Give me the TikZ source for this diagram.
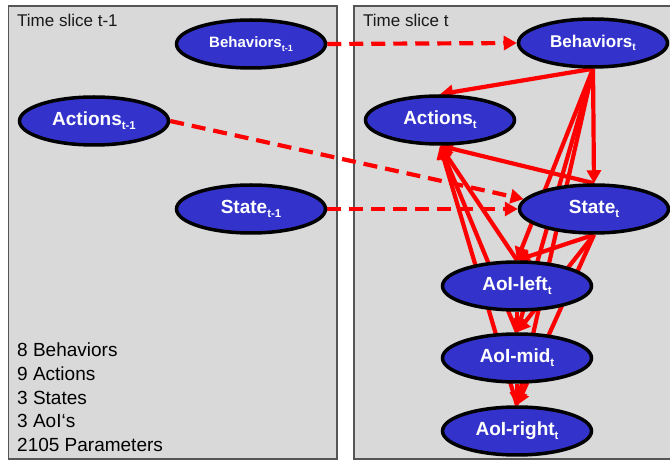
\documentclass[tikz,border=0pt]{standalone}
\usepackage{fontspec}
\usepackage{graphicx}
\setmainfont{Liberation Sans}
\usetikzlibrary{shapes.geometric,arrows.meta}
\pgfdeclarelayer{panel}
\pgfdeclarelayer{edge}
\pgfsetlayers{panel,edge,main}
\definecolor{nodeblue}{HTML}{3333CC}
\definecolor{panelgray}{HTML}{D9D9D9}
\definecolor{framegray}{HTML}{555555}
\newcommand\lsub[1]{\raisebox{-0.22em}{\scalebox{0.6}{#1}}}
\tikzset{
  var/.style={ellipse, draw=black, line width=3.5pt, fill=nodeblue, text=white,
    font=\bfseries\fontsize{19}{19}\selectfont, minimum width=149pt, minimum height=48pt, inner sep=0pt},
  dep/.style={draw=red, line width=4.2pt, -{Triangle[length=13pt,width=14pt]}},
  temporal/.style={dep, dash pattern=on 14pt off 8pt},
  panelbox/.style={draw=framegray, line width=1.5pt, fill=panelgray},
  paneltext/.style={font=\fontsize{17}{17}\selectfont, anchor=base west, inner sep=0pt, text=black!90},
  counttext/.style={font=\fontsize{19}{19}\selectfont, anchor=base west, inner sep=0pt}
}
\begin{document}
\begin{tikzpicture}[x=1pt,y=-1pt]
\useasboundingbox (0,0) rectangle (670,462);
% panels
\begin{pgfonlayer}{panel}
  \draw[panelbox] (8.5,6) rectangle (337,459);
  \draw[panelbox] (354,6) rectangle (680,459);
\end{pgfonlayer}
\node[paneltext] (tl) at (17,27) {Time slice t-1};
\node[paneltext] (tr) at (363,27) {Time slice t};
% counts
\node[counttext] (c1) at (17,357) {8 Behaviors};
\node[counttext] (c2) at (17,380.6) {9 Actions};
\node[counttext] (c3) at (17,404.2) {3 States};
\node[counttext] (c4) at (17,427.8) {3 AoI‘s};
\node[counttext] (c5) at (17,451.4) {2105 Parameters};
% nodes slice t-1
\node[var, font=\bfseries\fontsize{15}{15}\selectfont] (b1) at (251,44) {Behaviors\lsub{t-1}};
\node[var] (a1) at (94,121) {Actions\lsub{t-1}};
\node[var] (s1) at (251,209) {State\lsub{t-1}};
% nodes slice t
\node[var, font=\bfseries\fontsize{17}{17}\selectfont] (b) at (593,43) {Behaviors\lsub{t}};
\node[var] (a) at (440,120) {Actions\lsub{t}};
\node[var] (s) at (594,209) {State\lsub{t}};
\node[var] (al) at (517,286) {AoI-left\lsub{t}};
\node[var] (am) at (517,358) {AoI-mid\lsub{t}};
\node[var] (ar) at (517,431) {AoI-right\lsub{t}};
% edges
\begin{pgfonlayer}{edge}
  \draw[temporal] (b1.east) -- (b.west);
  \draw[temporal] (a1.east) -- (s.172);
  \draw[temporal] (s1.east) -- (s.west);
  \draw[dep] (b.south) -- (a.north);
  \draw[dep] (b.south) -- (s.north);
  \draw[dep] (s.north) -- (a.south);
  \draw[dep] (b.south) -- (al.north);
  \draw[dep] (b.south) -- (am.north);
  \draw[dep] (b.south) -- (ar.north);
  \draw[dep] (s.south) -- (al.north);
  \draw[dep] (s.south) -- (am.north);
  \draw[dep] (s.south) -- (ar.north);
  \draw[dep] (al.north) -- (a.south);
  \draw[dep] (am.north) -- (a.south);
  \draw[dep] (ar.north) -- (a.south);
  \draw[dep] (al.south) -- (am.north);
  \draw[dep] (am.south) -- (ar.north);
\end{pgfonlayer}
\end{tikzpicture}
\end{document}
